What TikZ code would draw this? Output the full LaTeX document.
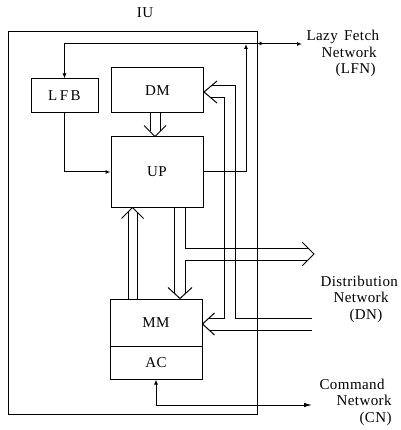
\documentclass[tikz,border=0pt]{standalone}
\usepackage{fontspec}
\setmainfont{Liberation Serif}[LetterSpace=3]
\usetikzlibrary{arrows.meta,calc}
\begin{document}
\begin{tikzpicture}[x=1pt,y=-1pt,line width=1pt,line join=miter,
  box/.style={draw,inner sep=0pt,font=\fontsize{15}{16}\selectfont},
  lbl/.style={font=\fontsize{15}{16.5}\selectfont,inner sep=0pt,align=left,anchor=base west},
  small/.style={-{Latex[length=5pt,width=4pt]}},
  smallopen/.style={-{Latex[open,length=5pt,width=4pt]}},
 ]
\useasboundingbox (0,0) rectangle (400,430);
% boxes
\node[box,minimum width=249pt,minimum height=382pt] (IU) at (132.5,223) {};
\node[font=\fontsize{15}{16}\selectfont,inner sep=0pt] (IUlbl) at (145,13) {IU};
\node[box,minimum width=67pt,minimum height=34pt] (LFB) at (64.5,96) {L\,F\,B};
\node[box,minimum width=92pt,minimum height=45pt] (DM) at (157.5,90.5) {DM};
\node[box,minimum width=92pt,minimum height=70pt] (UP) at (157,172) {UP};
\node[box,minimum width=92pt,minimum height=47pt] (MM) at (156,322.5) {MM};
\node[box,minimum width=92pt,minimum height=33pt] (AC) at (156,362.5) {AC};
% labels (base = last line)
\node[lbl] (LFNlbl) at (306,74) {Lazy\hspace{2pt} Fetch\\\hspace*{15pt}Network\\\hspace*{29pt}(LFN)};
\node[lbl] (DNlbl) at (320,319) {Distribution\\\hspace*{13pt}Network\\\hspace*{29pt}(DN)};
\node[lbl] (CNlbl) at (319,422) {Command\\\hspace*{17pt}Network\\\hspace*{40pt}(CN)};
% free ends
\coordinate (lfn) at (302,44);
\coordinate (lfnj) at (246,44);
\coordinate (dnout) at (314,254);
\coordinate (dnin) at (312,324);
\coordinate (cn) at (312,405);
\coordinate (dmtip) at ($(DM.east)+(0,1.5)$);
\coordinate (mmtip) at ($(MM.east)+(0,1.5)$);
% lazy fetch network
\draw[{Latex[open,length=5pt,width=4pt]}-{Latex[length=5pt,width=4pt]}] (lfn) -| (LFB.north);
\draw[small] ($(IU.north east)+(0,12)$) -- ++(7,0);
\draw[small] (UP.east) -| (lfnj);
\draw[smallopen] (LFB.south) |- (UP.west);
% DM -> UP
\draw ($(DM.south)+(-7.5,0)$) -- ($(UP.north)+(-7,-5)$);
\draw ($(DM.south)+(2.5,0)$) -- ($(UP.north)+(3,-5)$);
\draw ($(UP.north)+(-13,-11)$) -- ($(UP.north)+(-2,0)$) -- ($(UP.north)+(9,-11)$);
% MM -> UP
\draw ($(MM.north)+(-28,0)$) -- ($(UP.south)+(-29,4.5)$);
\draw ($(MM.north)+(-19,0)$) -- ($(UP.south)+(-20,4.5)$);
\draw ($(UP.south)+(-35.5,11)$) -- ($(UP.south)+(-24.5,0)$) -- ($(UP.south)+(-13.5,11)$);
% UP -> MM and distribution network out
\draw ($(UP.south)+(17,0)$) -- ($(MM.north)+(18,-5.5)$);
\draw ($(UP.south)+(28,0)$) |- ($(dnout)+(-6,-6)$);
\draw ($(dnout)+(-6,6)$) -| ($(MM.north)+(29,-4.6)$);
\draw ($(MM.north)+(12,-11)$) -- ($(MM.north)+(24,0)$) -- ($(MM.north)+(36,-11)$);
\draw ($(dnout)+(-12,-12)$) -- (dnout) -- ($(dnout)+(-12,12)$);
% distribution network in
\draw ($(dnin)+(0,-6)$) -| ($(dmtip)+(31.5,-6)$) -- ($(dmtip)+(7.1,-6)$);
\draw ($(dmtip)+(7.1,6)$) -| ($(mmtip)+(22,-6)$) -- ($(mmtip)+(6.5,-6)$);
\draw ($(dnin)+(0,6)$) -- ($(mmtip)+(6.5,6)$);
\draw ($(dmtip)+(13,-11)$) -- (dmtip) -- ($(dmtip)+(13,11)$);
\draw ($(mmtip)+(12,-11)$) -- (mmtip) -- ($(mmtip)+(12,11)$);
% command network
\draw[{Latex[length=5pt,width=4pt]}-{Latex[length=8pt,width=4.5pt]}] (AC.south) |- (cn);
\end{tikzpicture}
\end{document}
